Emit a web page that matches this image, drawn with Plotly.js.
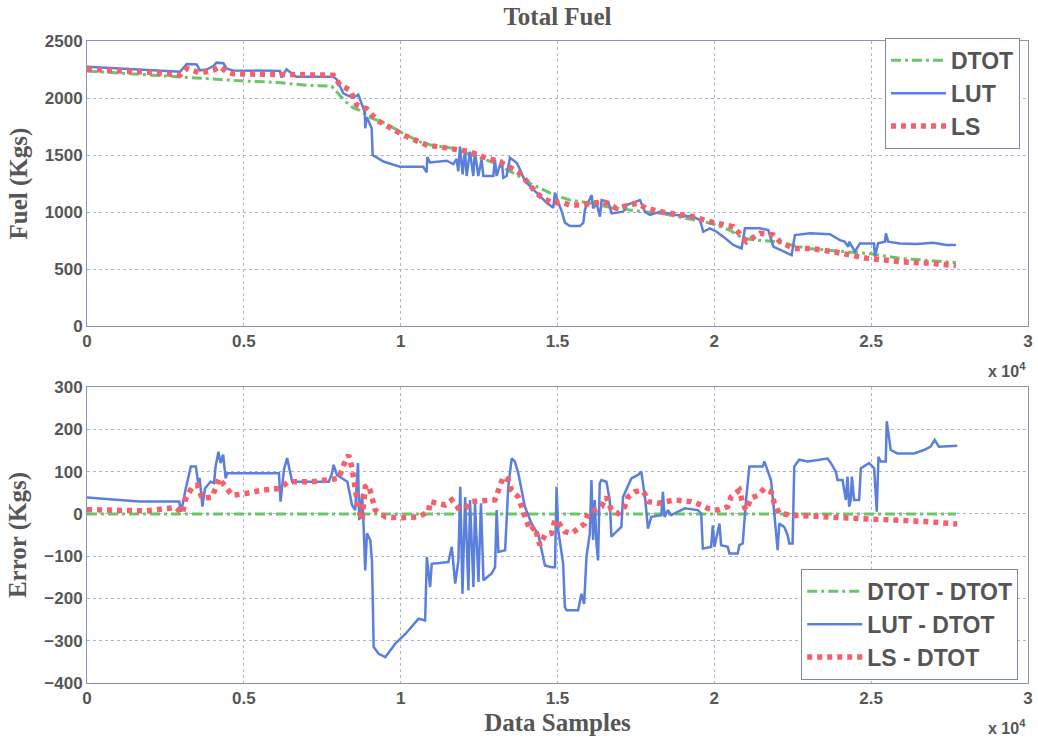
<!DOCTYPE html>
<html>
<head>
<meta charset="utf-8">
<script src="https://cdn.plot.ly/plotly-3.0.1.min.js"></script>
<style>html,body{margin:0;padding:0;background:#fff;}#chart{width:1038px;height:742px;}</style>
</head>
<body>
<div id="chart"></div>
<script>
// ---------- Top panel: Total Fuel (Kgs) vs data samples ----------
const fuelDtotX = [0, 3000, 4000, 5000, 6000, 6500, 7000, 7800, 8200, 8500, 8700, 9000, 9500, 10000, 10600, 11000, 11700, 12000, 12700, 13000, 13800, 14200, 14900, 15400, 16000, 16700, 17500, 18300, 19000, 19900, 20500, 20900, 21500, 22000, 22700, 23000, 23800, 24900, 25900, 27700];
const fuelDtotY = [2237, 2184, 2164, 2149, 2138, 2126, 2111, 2103, 1980, 1910, 1892, 1833, 1778, 1702, 1617, 1585, 1558, 1526, 1456, 1430, 1310, 1240, 1149, 1105, 1080, 1040, 1010, 988, 950, 901, 840, 769, 750, 740, 696, 681, 660, 637, 594, 558];

const fuelLutX = [0, 1000, 2000, 2970, 3180, 3500, 3600, 3815, 4030, 4130, 4350, 4450, 4660, 6150, 6200, 6360, 6580, 6680, 7850, 7960, 8170, 8490, 8650, 8760, 8860, 8870, 8920, 8970, 9075, 9107, 9450, 9978, 10720, 10828, 10850, 10934, 11466, 11678, 11784, 11837, 11890, 11975, 12050, 12103, 12209, 12315, 12368, 12475, 12581, 12634, 12953, 13006, 13059, 13219, 13272, 13378, 13484, 13697, 13803, 13962, 14228, 14653, 14866, 14919, 15025, 15131, 15238, 15397, 15715, 15822, 15875, 16088, 16140, 16247, 16353, 16406, 16619, 16725, 17097, 17203, 17628, 17787, 17947, 18266, 18797, 19328, 19541, 19647, 19860, 20072, 20285, 20603, 20869, 20976, 21454, 21720, 21879, 22091, 22304, 22463, 22569, 23048, 23685, 24004, 24150, 24270, 24300, 24380, 24482, 24641, 25090, 25120, 25220, 25440, 25470, 25540, 25917, 26450, 26979, 27400, 27702];
const fuelLutY = [2275, 2262, 2248, 2231, 2298, 2295, 2243, 2250, 2280, 2310, 2305, 2257, 2242, 2238, 2180, 2252, 2205, 2187, 2187, 2165, 2041, 2000, 2030, 1935, 1870, 1734, 1830, 1800, 1734, 1500, 1443, 1397, 1397, 1347, 1482, 1435, 1450, 1420, 1465, 1357, 1573, 1330, 1545, 1316, 1530, 1316, 1530, 1316, 1460, 1316, 1316, 1460, 1316, 1460, 1301, 1316, 1476, 1432, 1374, 1272, 1199, 1082, 1038, 1170, 1082, 1009, 906, 877, 877, 905, 1023, 1149, 1032, 1076, 959, 1105, 1090, 988, 1003, 1061, 1105, 1003, 974, 1003, 974, 959, 930, 827, 856, 827, 784, 711, 681, 857, 857, 842, 696, 667, 637, 622, 798, 813, 805, 754, 740, 696, 740, 696, 652, 725, 725, 608, 725, 740, 813, 740, 725, 720, 730, 711, 711];

const fuelLsX = [0, 1000, 2000, 2970, 3177, 3602, 4027, 4240, 4452, 4664, 6000, 7852, 8065, 8383, 8596, 8915, 9234, 10084, 10828, 11678, 12209, 12741, 13060, 13378, 13803, 14069, 14334, 14547, 14866, 15078, 15397, 15715, 16140, 16459, 16884, 17522, 17841, 18266, 19328, 19860, 20603, 20815, 21028, 21454, 21879, 22091, 22516, 23048, 23790, 24855, 25917, 26979, 27700];
const fuelLsY = [2252, 2240, 2225, 2202, 2260, 2220, 2245, 2275, 2230, 2212, 2205, 2200, 2114, 2070, 1940, 1905, 1807, 1675, 1588, 1559, 1530, 1471, 1450, 1410, 1339, 1252, 1164, 1120, 1076, 1090, 1061, 1061, 1076, 1090, 1032, 1076, 1032, 1003, 959, 915, 871, 800, 740, 813, 800, 740, 681, 681, 652, 594, 564, 550, 530];

// ---------- Bottom panel: Error (Kgs) vs data samples ----------
const errZeroX = [0, 27700];
const errZeroY = [0, 0];

const errLutX = [0, 1660, 2940, 3000, 3150, 3310, 3470, 3550, 3590, 3680, 3760, 3940, 4050, 4100, 4190, 4260, 4340, 4420, 4470, 6120, 6170, 6280, 6380, 6460, 6540, 7710, 7810, 7860, 7970, 8300, 8450, 8550, 8640, 8680, 8770, 8820, 8870, 8925, 9030, 9085, 9140, 9300, 9510, 9830, 10150, 10570, 10780, 10835, 10940, 10990, 11520, 11630, 11740, 11840, 11900, 11970, 12055, 12160, 12210, 12320, 12370, 12480, 12560, 12640, 12900, 13010, 13060, 13115, 13330, 13430, 13540, 13640, 13750, 13960, 14175, 14390, 14600, 14810, 14920, 14970, 15025, 15180, 15235, 15290, 15658, 15764, 15849, 15923, 16029, 16082, 16135, 16188, 16241, 16294, 16347, 16400, 16559, 16665, 16718, 17036, 17089, 17354, 17566, 17672, 17725, 17799, 17884, 17990, 18308, 18361, 18414, 18520, 18626, 19050, 19474, 19580, 19633, 19898, 19951, 20004, 20163, 20216, 20428, 20481, 20746, 20799, 20905, 21011, 21117, 21276, 21541, 21594, 21700, 21806, 21912, 22018, 22071, 22230, 22336, 22389, 22495, 22548, 22707, 22972, 23610, 23716, 23875, 23928, 24087, 24193, 24246, 24299, 24352, 24384, 24458, 24617, 24670, 24935, 25094, 25179, 25232, 25306, 25465, 25497, 25624, 25836, 26366, 26684, 26896, 27023, 27161, 27744];
const errLutY = [39, 29, 29, 5, 60, 112, 112, 70, 85, 17, 60, 76, 73, 112, 147, 120, 140, 84, 96, 96, 29, 105, 132, 105, 76, 76, 96, 116, 92, 76, 21, 9, 120, -15, 48, -31, -134, -46, -62, -110, -315, -331, -339, -307, -284, -248, -252, -102, -173, -118, -114, -78, -165, -110, 64, -189, 40, -181, 33, -173, 25, -161, 25, -157, -141, -126, 9, -90, -86, 64, 131, 124, 96, 17, -23, -50, -122, -126, -126, 64, -39, -118, -220, -228, -228, -189, -213, -102, -46, 80, -62, 33, -70, -110, 72, 80, 76, 33, -54, -31, 40, 84, 92, 100, 72, 33, -35, -7, -3, 52, -7, 9, -3, 13, 9, 1, -82, -78, -27, -78, -23, -74, -78, -94, -94, -74, -70, 33, 112, 112, 112, 124, 104, 80, 1, -86, -23, -31, -50, -70, -70, 112, 128, 124, 131, 120, 100, 80, 80, 33, 88, 17, 33, 88, 33, 33, 108, 120, 108, 5, 135, 124, 124, 219, 151, 143, 143, 151, 159, 175, 159, 161];

const errLsX = [0, 1875, 2829, 3041, 3147, 3359, 3518, 3677, 3995, 4101, 4207, 4419, 4631, 5055, 5585, 6115, 6433, 7175, 7705, 8025, 8184, 8343, 8449, 8555, 8661, 8767, 8873, 8979, 9085, 9191, 9509, 10039, 10569, 10887, 10940, 11417, 11629, 11841, 12053, 12265, 13007, 13166, 13272, 13431, 13537, 13749, 13855, 14014, 14120, 14279, 14438, 14597, 14809, 14915, 15021, 15234, 15446, 15658, 15870, 15976, 16188, 16400, 16559, 16718, 16930, 17142, 17248, 17460, 17672, 17778, 17884, 18202, 18732, 19262, 19580, 19792, 20110, 20428, 20534, 20799, 20905, 21011, 21170, 21382, 21594, 21806, 21912, 22071, 22442, 22972, 23716, 24776, 25836, 26896, 27744];
const errLsY = [10, 7, 15, 1, 36, 64, 68, 36, 40, 60, 84, 64, 44, 48, 56, 60, 76, 76, 80, 84, 116, 139, 108, 64, 9, -15, 64, 68, 33, 9, -7, -9, -7, 5, 29, 21, 33, 13, 13, 29, 33, 64, 88, 80, 56, 40, 17, -15, -39, -31, -74, -50, -46, -15, -19, -42, -46, -35, -23, 1, 9, 17, 40, 9, 1, 17, 40, 52, 56, 48, 29, 25, 33, 29, 21, 13, 9, 17, 40, 56, 25, 9, 37, 44, 60, 52, 25, 1, -3, -5, -7, -11, -13, -19, -24];

// ---------- Labels ----------
const xTickVals = [0, 5000, 10000, 15000, 20000, 25000, 30000];
const xTickText = ['0', '0.5', '1', '1.5', '2', '2.5', '3'];
const fuelTicks = [0, 500, 1000, 1500, 2000, 2500];
const errTicks = [-400, -300, -200, -100, 0, 100, 200, 300];
const topNames = ['DTOT', 'LUT', 'LS'];
const bottomNames = ['DTOT - DTOT', 'LUT - DTOT', 'LS - DTOT'];

const GREEN = '#6cc46c', BLUE = '#5a7fdc', RED = '#f4606c';
const TXT = '#565656';
const tickFont = {family: 'Liberation Sans, Arial, sans-serif', size: 17, weight: 'bold', color: TXT};
const serifBold = (s) => ({family: 'Liberation Serif, Times New Roman, serif', size: s, weight: 'bold', color: TXT});

const greenLine = {color: GREEN, width: 3, dash: '10px,4px,3px,4px'};
const blueLine = {color: BLUE, width: 2.5};
const redLine = {color: RED, width: 5.5, dash: '5px,5px'};

const traces = [
  {x: fuelDtotX, y: fuelDtotY, name: topNames[0], mode: 'lines', line: greenLine, xaxis: 'x', yaxis: 'y', legend: 'legend'},
  {x: fuelLutX, y: fuelLutY, name: topNames[1], mode: 'lines', line: blueLine, xaxis: 'x', yaxis: 'y', legend: 'legend'},
  {x: fuelLsX, y: fuelLsY, name: topNames[2], mode: 'lines', line: redLine, xaxis: 'x', yaxis: 'y', legend: 'legend'},
  {x: errZeroX, y: errZeroY, name: bottomNames[0], mode: 'lines', line: greenLine, xaxis: 'x2', yaxis: 'y2', legend: 'legend2'},
  {x: errLutX, y: errLutY, name: bottomNames[1], mode: 'lines', line: blueLine, xaxis: 'x2', yaxis: 'y2', legend: 'legend2'},
  {x: errLsX, y: errLsY, name: bottomNames[2], mode: 'lines', line: redLine, xaxis: 'x2', yaxis: 'y2', legend: 'legend2'}
];

const axisCommon = {
  showline: true, mirror: true, linecolor: '#8a92b8', linewidth: 1,
  showgrid: true, gridcolor: '#aeb5d4', gridwidth: 1, griddash: '3px,3px',
  zeroline: false, ticks: '', tickfont: tickFont
};

const legendCommon = {
  bgcolor: '#ffffff', bordercolor: '#7f86a6', borderwidth: 1,
  font: {family: 'Liberation Sans, Arial, sans-serif', size: 23, weight: 'bold', color: '#555'},
  itemwidth: 55, tracegroupgap: 0
};

const layout = {
  width: 1038, height: 742,
  margin: {l: 87, r: 10, t: 41, b: 59},
  paper_bgcolor: '#ffffff', plot_bgcolor: '#ffffff',
  showlegend: true,
  title: {text: 'Total Fuel', font: serifBold(25), x: 0.5, xref: 'paper', y: 0.978, yref: 'container', yanchor: 'middle'},
  xaxis: Object.assign({}, axisCommon, {domain: [0, 1], anchor: 'y', range: [0, 30000], tickvals: xTickVals, ticktext: xTickText}),
  yaxis: Object.assign({}, axisCommon, {domain: [0.556, 1], anchor: 'x', range: [0, 2500], tickvals: fuelTicks,
    title: {text: 'Fuel (Kgs)', font: serifBold(25), standoff: 10}}),
  xaxis2: Object.assign({}, axisCommon, {domain: [0, 1], anchor: 'y2', range: [0, 30000], tickvals: xTickVals, ticktext: xTickText,
    title: {text: 'Data Samples', font: serifBold(25), standoff: 6}}),
  yaxis2: Object.assign({}, axisCommon, {domain: [0, 0.461], anchor: 'x2', range: [-400, 300], tickvals: errTicks,
    title: {text: 'Error (Kgs)', font: serifBold(25), standoff: 10}}),
  legend: Object.assign({}, legendCommon, {x: 0.848, xanchor: 'left', y: 1.005, yanchor: 'top'}),
  legend2: Object.assign({}, legendCommon, {x: 0.759, xanchor: 'left', y: 0.005, yanchor: 'bottom'}),
  annotations: [
    {text: 'x 10<sup>4</sup>', xref: 'paper', yref: 'paper', x: 1, y: 0.4875, xanchor: 'right', yanchor: 'middle', showarrow: false,
     font: {family: 'Liberation Sans, Arial, sans-serif', size: 16, weight: 'bold', color: TXT}},
    {text: 'x 10<sup>4</sup>', xref: 'paper', yref: 'paper', x: 1, y: -0.068, xanchor: 'right', yanchor: 'middle', showarrow: false,
     font: {family: 'Liberation Sans, Arial, sans-serif', size: 16, weight: 'bold', color: TXT}}
  ]
};

Plotly.newPlot('chart', traces, layout, {displayModeBar: false, staticPlot: true});
</script>
</body>
</html>
